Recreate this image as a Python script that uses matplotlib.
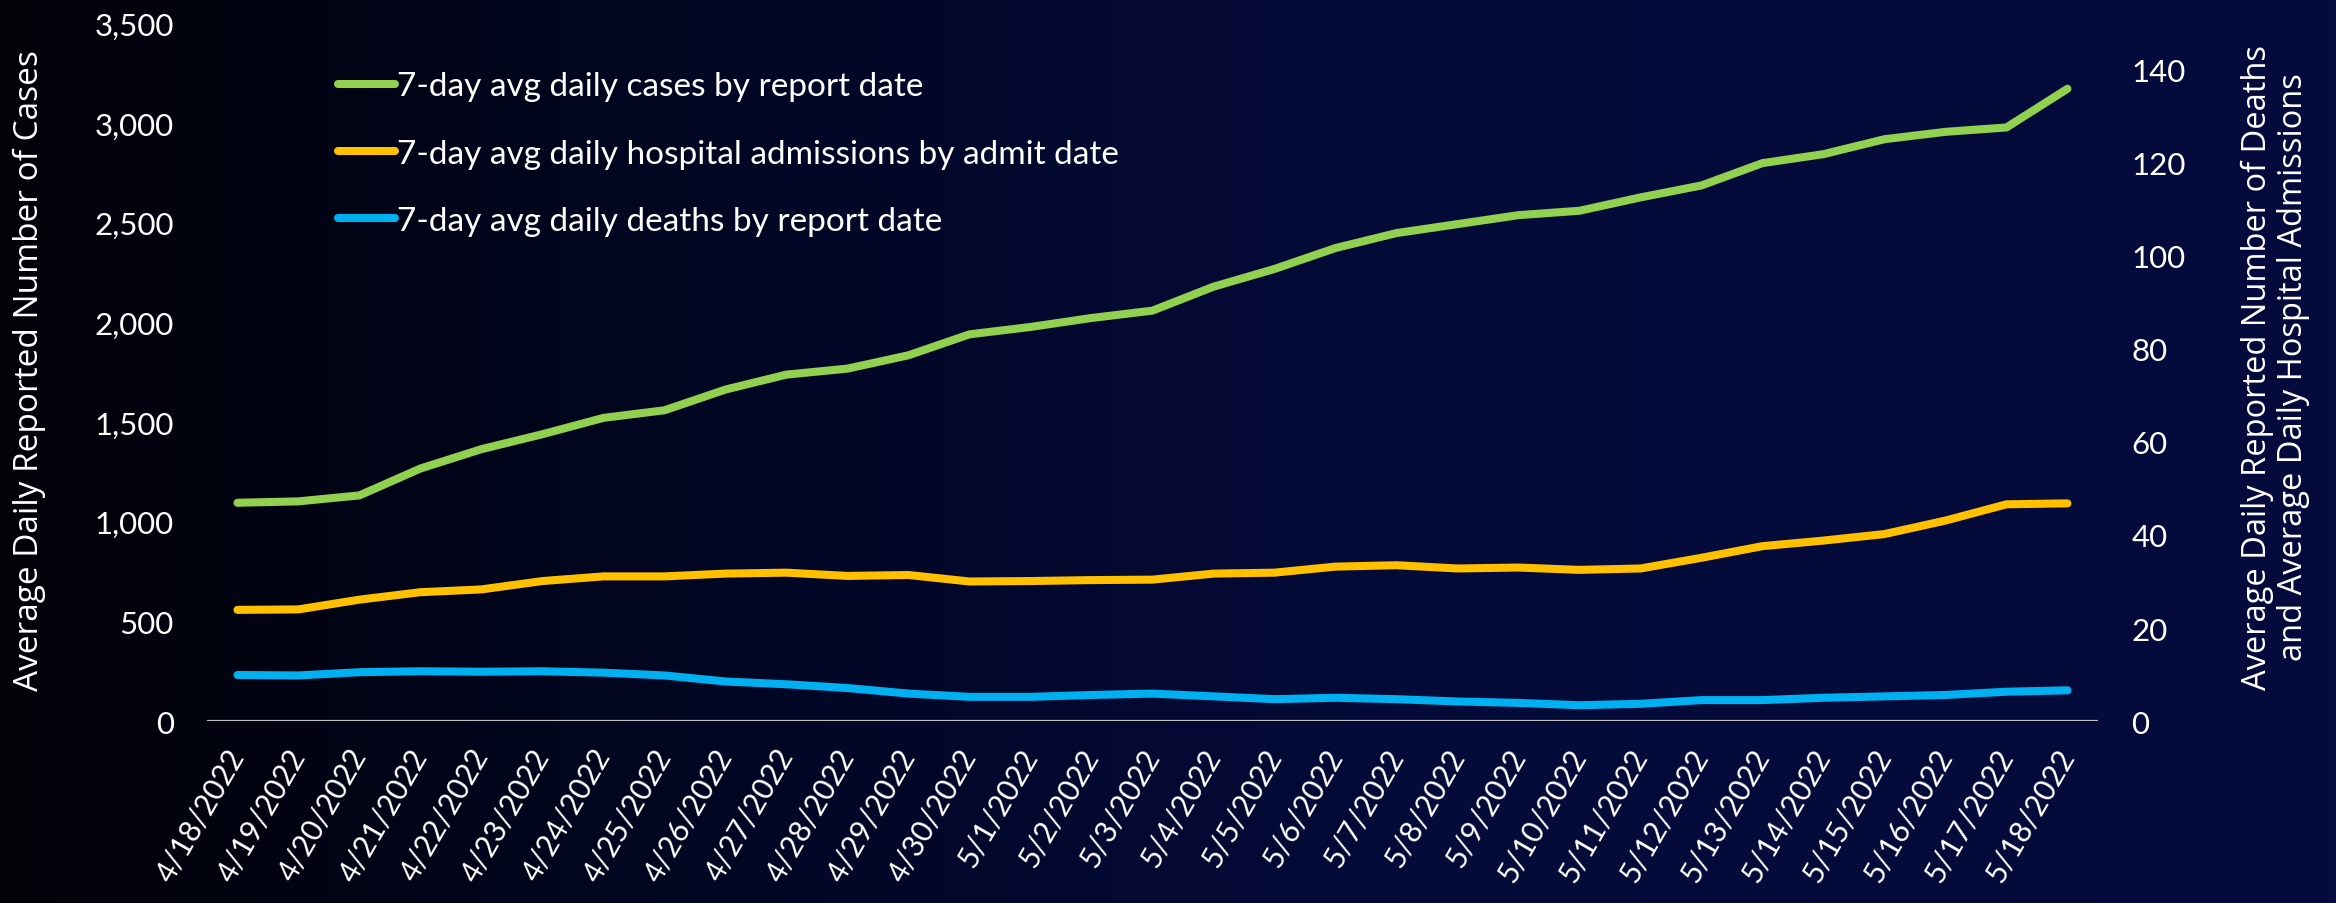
import numpy as np
import matplotlib
matplotlib.use("Agg")
import matplotlib.pyplot as plt
from matplotlib.ticker import FuncFormatter, MultipleLocator
from matplotlib.colors import LinearSegmentedColormap

# dates on the x axis
dates = ["4/18/2022", "4/19/2022", "4/20/2022", "4/21/2022", "4/22/2022", "4/23/2022",
         "4/24/2022", "4/25/2022", "4/26/2022", "4/27/2022", "4/28/2022", "4/29/2022",
         "4/30/2022", "5/1/2022", "5/2/2022", "5/3/2022", "5/4/2022", "5/5/2022",
         "5/6/2022", "5/7/2022", "5/8/2022", "5/9/2022", "5/10/2022", "5/11/2022",
         "5/12/2022", "5/13/2022", "5/14/2022", "5/15/2022", "5/16/2022", "5/17/2022",
         "5/18/2022"]

# 7-day avg daily cases (left axis)
cases = [1095, 1102, 1132, 1267, 1364, 1439, 1521, 1559, 1663, 1738, 1768, 1835,
         1940, 1977, 2022, 2059, 2179, 2268, 2373, 2448, 2493, 2538, 2560, 2627,
         2687, 2799, 2844, 2919, 2956, 2978, 3172]

# 7-day avg daily hospital admissions (right axis)
admissions = [23.9, 24.0, 26.1, 27.7, 28.3, 30.1, 31.1, 31.1, 31.7, 31.9, 31.2, 31.4,
              30.0, 30.1, 30.3, 30.4, 31.7, 31.9, 33.2, 33.5, 32.8, 33.0, 32.5, 32.8,
              35.1, 37.6, 38.8, 40.2, 43.1, 46.6, 46.8]

# 7-day avg daily deaths (right axis)
deaths = [9.9, 9.8, 10.5, 10.7, 10.6, 10.7, 10.4, 9.8, 8.5, 7.9, 7.1, 5.9,
          5.2, 5.2, 5.6, 5.9, 5.3, 4.7, 5.0, 4.7, 4.2, 3.9, 3.4, 3.7,
          4.5, 4.5, 5.0, 5.3, 5.6, 6.3, 6.6]

labels = ["7-day avg daily cases by report date",
          "7-day avg daily hospital admissions by admit date",
          "7-day avg daily deaths by report date"]
colors = ["#92D050", "#FFC000", "#00B0F0"]

tick_font = "Lato"
title_font = "Open Sans"

fig = plt.figure(figsize=(23.36, 9.04), dpi=100)

# dark gradient background: near black on the left, navy on the right
bg = fig.add_axes([0, 0, 1, 1], zorder=-10)
cmap = LinearSegmentedColormap.from_list("bg", [(0.0, "#010208"), (0.35, "#020727"),
                                                (0.6, "#040B39"), (1.0, "#050C3D")])
grad = np.linspace(0, 1, 512).reshape(1, -1)
bg.imshow(grad, aspect="auto", cmap=cmap, extent=[0, 1, 0, 1])
bg.axis("off")

ax = fig.add_axes([0.0886, 0.2013, 0.8095, 0.7717])
ax2 = ax.twinx()
for a in (ax, ax2):
    a.patch.set_visible(False)
    for s in a.spines.values():
        s.set_visible(False)

x = np.arange(len(dates))
l1, = ax.plot(x, cases, color=colors[0], lw=5.8, solid_capstyle="round",
              solid_joinstyle="round", label=labels[0])
l2, = ax2.plot(x, admissions, color=colors[1], lw=5.8, solid_capstyle="round",
               solid_joinstyle="round", label=labels[1])
l3, = ax2.plot(x, deaths, color=colors[2], lw=5.8, solid_capstyle="round",
               solid_joinstyle="round", label=labels[2])

ax.axhline(0, color="#BFBFBF", lw=1.6, zorder=0)

ax.set_xlim(-0.5, 30.5)
ax.set_ylim(0, 3500)
ax2.set_ylim(0, 150)
ax.yaxis.set_major_locator(MultipleLocator(500))
ax2.set_yticks(np.arange(0, 141, 20))
ax.yaxis.set_major_formatter(FuncFormatter(lambda v, p: f"{int(v):,}"))

ax.set_xticks(x)
ax.set_xticklabels(dates, rotation=60, ha="right", va="center", rotation_mode="anchor",
                   fontsize=21.5, family=tick_font, color="white")
ax.tick_params(axis="x", length=0, pad=21)
ax.tick_params(axis="y", length=0, pad=24, labelsize=22.5, labelcolor="white")
ax2.tick_params(axis="y", length=0, pad=24, labelsize=22.5, labelcolor="white")
for t in ax.get_yticklabels() + ax2.get_yticklabels():
    t.set_family(tick_font)

fig.text(0.0125, 0.59, "Average Daily Reported Number of Cases", rotation=90,
         ha="center", va="center", fontsize=24, family=title_font, color="white")
fig.text(0.974, 0.594, "Average Daily Reported Number of Deaths\nand Average Daily Hospital Admissions",
         rotation=90, ha="center", va="center", fontsize=23.5, family=title_font,
         color="white", linespacing=1.15)

leg = fig.legend([l1, l2, l3], labels, loc="upper left", bbox_to_anchor=(0.132, 0.953),
                 frameon=False, handlelength=1.7, handletextpad=0.05,
                 labelspacing=1.12, prop={"family": tick_font, "size": 24})
for t in leg.get_texts():
    t.set_color("white")

fig.savefig("out.png", dpi=100)
